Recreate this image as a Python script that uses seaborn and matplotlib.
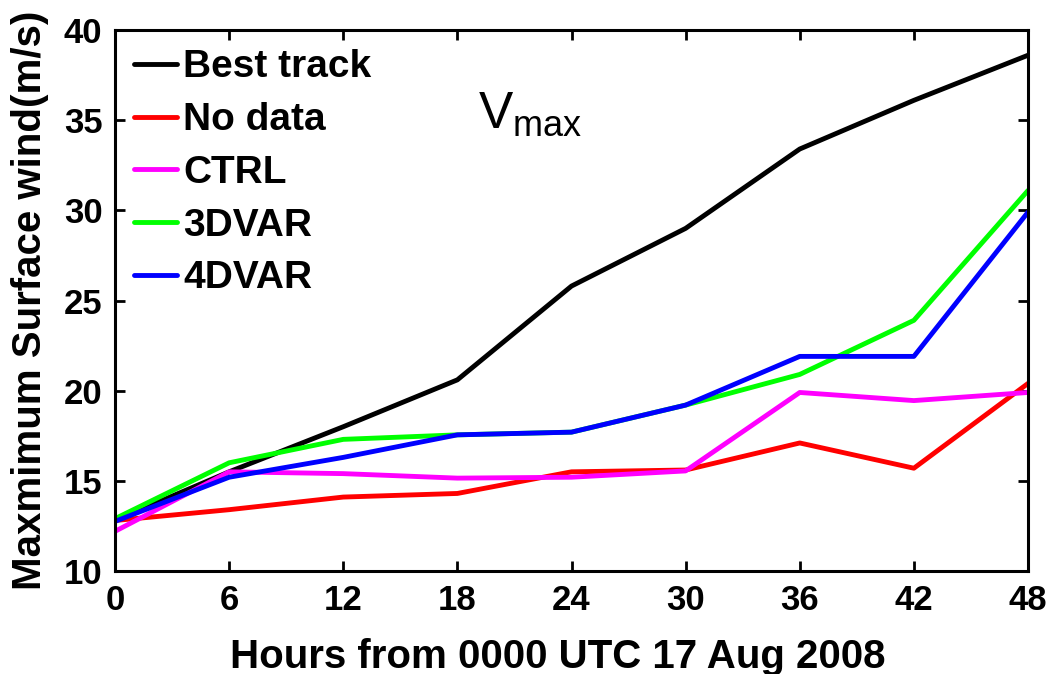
import matplotlib
matplotlib.use("Agg")
import matplotlib.pyplot as plt
import seaborn as sns
import pandas as pd
import numpy as np

hours = [0, 6, 12, 18, 24, 30, 36, 42, 48]
best_track = [12.8, 15.5, 18.0, 20.6, 25.8, 29.0, 33.4, 36.1, 38.6]
no_data = [12.8, 13.4, 14.1, 14.3, 15.5, 15.6, 17.1, 15.7, 20.4]
ctrl = [12.2, 15.5, 15.4, 15.15, 15.2, 15.55, 19.9, 19.45, 19.9]
var3d = [12.9, 16.0, 17.3, 17.55, 17.7, 19.2, 20.9, 23.9, 31.1]
var4d = [12.75, 15.2, 16.3, 17.55, 17.7, 19.2, 21.9, 21.9, 29.9]

series_names = ["Best track", "No data", "CTRL", "3DVAR", "4DVAR"]
series_values = [best_track, no_data, ctrl, var3d, var4d]
colors = ["#000000", "#ff0000", "#ff00ff", "#00ff00", "#0000ff"]
yticks = [10, 15, 20, 25, 30, 35, 40]
xticks = hours

rows = []
for name, vals in zip(series_names, series_values):
    for h, v in zip(hours, vals):
        rows.append({"hour": h, "wind": v, "run": name})
df = pd.DataFrame(rows)

sns.set_style("ticks")
plt.rcParams["font.family"] = ["Liberation Sans", "DejaVu Sans"]
plt.rcParams["font.weight"] = "bold"
plt.rcParams["text.color"] = "black"
plt.rcParams["axes.labelcolor"] = "black"
plt.rcParams["xtick.color"] = "black"
plt.rcParams["ytick.color"] = "black"
plt.rcParams["mathtext.fontset"] = "custom"
plt.rcParams["mathtext.rm"] = "Liberation Sans:normal"
plt.rcParams["mathtext.it"] = "Liberation Sans:normal"
plt.rcParams["mathtext.bf"] = "Liberation Sans:bold"

fig = plt.figure(figsize=(10.5, 6.74), dpi=100)
ax = fig.add_axes([115 / 1050, 1 - 571 / 674, (1028 - 115) / 1050, (571 - 30) / 674])

sns.lineplot(data=df, x="hour", y="wind", hue="run", hue_order=series_names,
             palette=colors, linewidth=3.5, ax=ax, legend=True, sort=False)

ax.set_xlim(0, 48)
ax.set_ylim(10, 40)
ax.set_xticks(xticks)
ax.set_yticks(yticks)
ax.tick_params(direction="in", length=7, width=2, top=True, right=True,
               labelsize=25, pad=9, colors="black")
for lab in ax.get_xticklabels() + ax.get_yticklabels():
    lab.set_fontweight("bold")
for sp in ax.spines.values():
    sp.set_visible(True)
    sp.set_linewidth(2.2)
    sp.set_color("black")

ax.set_xlabel("Hours from 0000 UTC 17 Aug 2008", fontsize=29, fontweight="bold",
              labelpad=13, color="black")
ax.xaxis.set_label_coords(0.485, -0.123, transform=ax.transAxes)
ax.xaxis.label.set_verticalalignment("top")
ax.set_ylabel("Maxmimum Surface wind(m/s)", fontsize=29, fontweight="bold",
              labelpad=11, color="black")

leg = ax.legend(loc="upper left", frameon=False, fontsize=28, handlelength=1.1,
                handletextpad=0.15, labelspacing=0.43, borderaxespad=0.2,
                borderpad=0.3)
for t in leg.get_texts():
    t.set_fontweight("bold")
    t.set_color("black")
for l in leg.get_lines():
    l.set_linewidth(3.5)

ax.text(19.1, 34.6, r"V$_{\mathrm{max}}$", fontsize=37, fontweight="normal",
        va="baseline", ha="left", color="black")

fig.savefig("out.png", dpi=100)
